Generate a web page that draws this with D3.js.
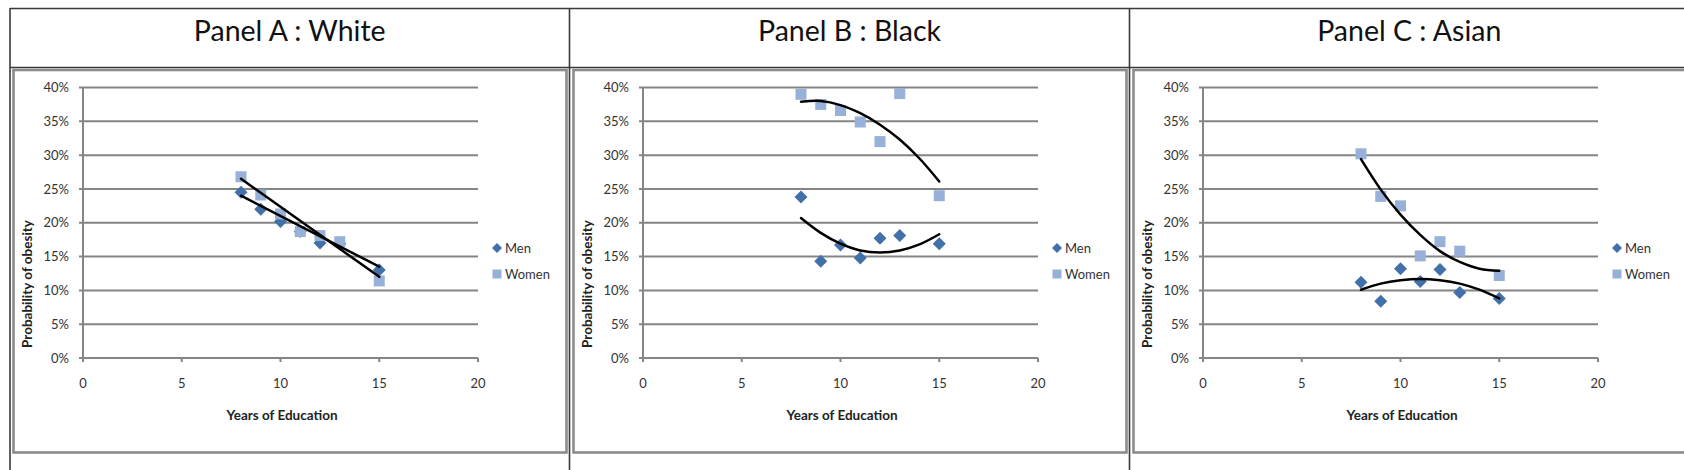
<!DOCTYPE html>
<html><head><meta charset="utf-8">
<script src="https://cdn.jsdelivr.net/npm/d3@7"></script>
<style>html,body{margin:0;padding:0;background:#fff}svg{display:block}</style>
</head><body>
<script>
// ---- data ----
const panelTitles = ["Panel A : White", "Panel B : Black", "Panel C : Asian"];
const seriesNames = ["Men", "Women"];
const years = [8, 9, 10, 11, 12, 13, 15];
const menA   = [24.5, 22.0, 20.2, 18.7, 17.0, 16.9, 13.0];
const womenA = [26.8, 24.1, 21.3, 18.7, 18.1, 17.2, 11.4];
const menB   = [23.8, 14.3, 16.7, 14.8, 17.7, 18.1, 16.9];
const womenB = [39.0, 37.5, 36.6, 34.9, 32.0, 39.1, 24.0];
const menC   = [11.2, 8.4, 13.2, 11.3, 13.1, 9.7, 8.8];
const womenC = [30.2, 23.9, 22.5, 15.1, 17.2, 15.8, 12.2];
// trend lines
const trendYearsLinear = [8, 15];
const trendMenA   = [24.0, 13.5];
const trendWomenA = [26.5, 12.0];
const trendYears = [8, 9, 10, 11, 12, 13, 14, 15];
const trendMenB   = [20.7, 18.5, 16.9, 15.9, 15.6, 15.9, 16.8, 18.3];
const trendWomenB = [37.9, 38.0, 37.4, 36.2, 34.5, 32.3, 29.5, 26.1];
const trendMenC   = [10.1, 11.0, 11.5, 11.7, 11.5, 11.0, 10.1, 8.8];
const trendWomenC = [29.4, 24.9, 21.2, 18.2, 15.8, 14.2, 13.2, 12.9];
const xTicks = [0, 5, 10, 15, 20];
const yTicks = [0, 5, 10, 15, 20, 25, 30, 35, 40];
const xTitle = "Years of Education";
const yTitle = "Probability of obesity";

const panels = [
  {men: menA, women: womenA, tx: trendYearsLinear, tMen: trendMenA, tWomen: trendWomenA},
  {men: menB, women: womenB, tx: trendYears, tMen: trendMenB, tWomen: trendWomenB},
  {men: menC, women: womenC, tx: trendYears, tMen: trendMenC, tWomen: trendWomenC}
];

// ---- drawing ----
const W = 1684, H = 470;
const FONT = "Lato, 'Open Sans', sans-serif";
const svg = d3.select("body").append("svg").attr("width", W).attr("height", H);

const gridCol = "#858585";
const menCol = "#4271aa";
const womenCol = "#97b1d8";
const tableCol = "#3a3a3a";

const cellX = [10, 569.5, 1129.5];

// table lines
svg.append("line").attr("x1", 10).attr("x2", W).attr("y1", 8.5).attr("y2", 8.5)
  .attr("stroke", tableCol).attr("stroke-width", 1.6);
svg.append("line").attr("x1", 10).attr("x2", W).attr("y1", 67.5).attr("y2", 67.5)
  .attr("stroke", tableCol).attr("stroke-width", 1.6);
cellX.forEach(x => svg.append("line").attr("x1", x).attr("x2", x).attr("y1", 8).attr("y2", H)
  .attr("stroke", tableCol).attr("stroke-width", 1.6));

panels.forEach((p, i) => {
  const off = 560 * i;
  const g = svg.append("g");
  // title
  g.append("text").attr("x", (cellX[i] + (i < 2 ? cellX[i + 1] : 1689)) / 2).attr("y", 41)
    .attr("text-anchor", "middle").attr("font-family", FONT).attr("font-size", 28.5)
    .attr("fill", "#111").text(panelTitles[i]);
  // chart box
  g.append("rect").attr("x", 13.5 + off).attr("y", 70).attr("width", 553).attr("height", 382.5)
    .attr("fill", "#fff").attr("stroke", "#8c8c8c").attr("stroke-width", 2.6);

  const left = 83 + off, right = left + 395;
  const x = d3.scaleLinear().domain([0, 20]).range([left, right]);
  const y = d3.scaleLinear().domain([0, 40]).range([358, 87.5]);

  // gridlines + y ticks
  g.append("g").selectAll("line").data(yTicks).join("line")
    .attr("x1", left - 4).attr("x2", right).attr("y1", d => y(d)).attr("y2", d => y(d))
    .attr("stroke", gridCol).attr("stroke-width", 2);
  // y axis line
  g.append("line").attr("x1", left).attr("x2", left).attr("y1", y(40)).attr("y2", y(0) + 1)
    .attr("stroke", gridCol).attr("stroke-width", 2);
  // x ticks
  g.append("g").selectAll("line").data(xTicks).join("line")
    .attr("x1", d => x(d)).attr("x2", d => x(d)).attr("y1", y(0)).attr("y2", y(0) + 4)
    .attr("stroke", gridCol).attr("stroke-width", 2);

  // tick labels
  g.append("g").selectAll("text").data(yTicks).join("text")
    .attr("x", left - 14).attr("y", d => y(d)).attr("dy", "0.36em")
    .attr("text-anchor", "end").attr("font-family", FONT).attr("font-size", 13)
    .attr("fill", "#333").text(d => d + "%");
  g.append("g").selectAll("text").data(xTicks).join("text")
    .attr("x", d => x(d)).attr("y", 383).attr("dy", "0.36em")
    .attr("text-anchor", "middle").attr("font-family", FONT).attr("font-size", 13)
    .attr("fill", "#333").text(d => d);

  // axis titles
  g.append("text").attr("x", left + 199).attr("y", 415).attr("dy", "0.36em")
    .attr("text-anchor", "middle").attr("font-family", FONT).attr("font-size", 13.5)
    .attr("font-weight", "bold").attr("fill", "#222").text(xTitle);
  g.append("text").attr("transform", `translate(${left - 56},284) rotate(-90)`)
    .attr("dy", "0.36em").attr("text-anchor", "middle").attr("font-family", FONT)
    .attr("font-size", 13.5).attr("font-weight", "bold").attr("fill", "#222").text(yTitle);

  const diamond = (cx, cy, r) => `M${cx},${cy - r}L${cx + r},${cy}L${cx},${cy + r}L${cx - r},${cy}Z`;

  // markers: men (diamonds) then women (squares)
  g.append("g").selectAll("path").data(years.map((yr, k) => [yr, p.men[k]])).join("path")
    .attr("d", d => diamond(x(d[0]), y(d[1]), 6.5)).attr("fill", menCol);
  g.append("g").selectAll("rect").data(years.map((yr, k) => [yr, p.women[k]])).join("rect")
    .attr("x", d => x(d[0]) - 5.5).attr("y", d => y(d[1]) - 5.5)
    .attr("width", 11).attr("height", 11).attr("fill", womenCol);

  // trend lines
  const line = d3.line().x(d => x(d[0])).y(d => y(d[1])).curve(d3.curveCatmullRom);
  [p.tMen, p.tWomen].forEach(t => {
    g.append("path").attr("d", line(p.tx.map((xx, k) => [xx, t[k]])))
      .attr("fill", "none").attr("stroke", "#000").attr("stroke-width", 2.5)
      .attr("stroke-linecap", "round");
  });

  // legend
  const lx = left + 414;
  g.append("path").attr("d", diamond(lx, 248, 5)).attr("fill", menCol);
  g.append("rect").attr("x", lx - 4.5).attr("y", 269.5).attr("width", 9).attr("height", 9)
    .attr("fill", womenCol);
  g.append("text").attr("x", lx + 8).attr("y", 248).attr("dy", "0.36em")
    .attr("font-family", FONT).attr("font-size", 13).attr("fill", "#333").text(seriesNames[0]);
  g.append("text").attr("x", lx + 8).attr("y", 274).attr("dy", "0.36em")
    .attr("font-family", FONT).attr("font-size", 13).attr("fill", "#333").text(seriesNames[1]);
});
</script>
</body></html>
